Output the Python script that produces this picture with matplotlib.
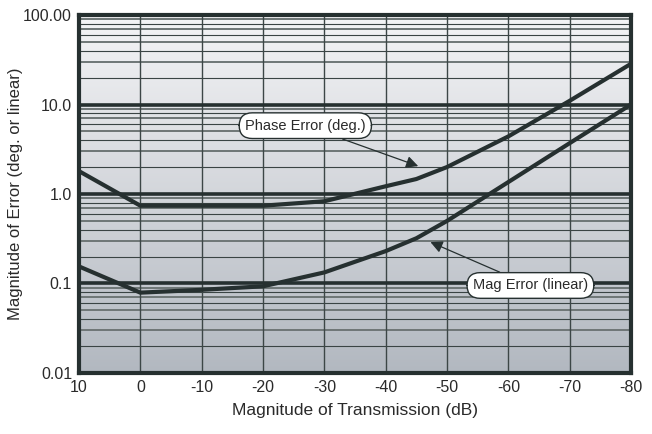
import matplotlib.pyplot as plt
import matplotlib.colors as mcolors
import numpy as np

plt.rcParams['font.family'] = ['Liberation Sans', 'DejaVu Sans']

# transmission (dB) and error values
x_db = [10, 0, -10, -20, -30, -40, -45, -50, -60, -70, -80]
phase_err = [1.8, 0.74, 0.74, 0.74, 0.83, 1.22, 1.47, 2.0, 4.4, 11.0, 28.5]
mag_err = [0.155, 0.079, 0.085, 0.093, 0.133, 0.23, 0.32, 0.5, 1.36, 3.7, 10.0]

x_ticks = [10, 0, -10, -20, -30, -40, -50, -60, -70, -80]
x_labels = ['10', '0', '-10', '-20', '-30', '-40', '-50', '-60', '-70', '-80']
y_ticks = [0.01, 0.1, 1, 10, 100]
y_labels = ['0.01', '0.1', '1.0', '10.0', '100.00']

dark = '#263030'
txt = '#2a2a2a'

fig = plt.figure(figsize=(6.52, 4.34), dpi=100)
ax = fig.add_axes([0.1212, 0.1406, 0.8466, 0.8248])

# background gradient
cmap = mcolors.LinearSegmentedColormap.from_list('bg', ['#b2b8c0', '#f4f4f6'])
grad = np.linspace(0, 1, 256).reshape(-1, 1)
ax.imshow(grad, aspect='auto', cmap=cmap, origin='lower', extent=[0, 1, 0, 1],
          transform=ax.transAxes, zorder=0)

ax.set_yscale('log')
ax.set_xlim(10, -80)
ax.set_ylim(0.01, 100)

# grid lines
for d in [0.01, 0.1, 1, 10]:
    for m in range(2, 10):
        if m % 2 == 0:
            ax.axhline(d * m, color='#3a4444', lw=0.8, zorder=1)
        else:
            ax.axhline(d * m, color='#6e7676', lw=1.4, zorder=1)
for d in [0.1, 1, 10]:
    ax.axhline(d, color=dark, lw=2.6, zorder=2)
for xv in x_ticks[1:-1]:
    ax.axvline(xv, color='#3c4646', lw=1.0, zorder=1)

ax.plot(x_db, phase_err, color=dark, lw=3, zorder=3, solid_joinstyle='round')
ax.plot(x_db, mag_err, color=dark, lw=3, zorder=3, solid_joinstyle='round')

bbox = dict(boxstyle='round,pad=0.4,rounding_size=0.9', fc='white', ec=dark, lw=1)
arrow = dict(arrowstyle='-|>', color=dark, lw=0.9, mutation_scale=18,
             shrinkA=0, shrinkB=0)
ax.annotate('Phase Error (deg.)', xy=(-45.3, 2.05), xytext=(-26.9, 5.8),
            fontsize=10.5, color=txt, ha='center', va='center', bbox=bbox,
            arrowprops=arrow, zorder=5)
ax.annotate('Mag Error (linear)', xy=(-47.3, 0.29), xytext=(-63.6, 0.095),
            fontsize=10.5, color=txt, ha='center', va='center', bbox=bbox,
            arrowprops=arrow, zorder=5)

ax.set_xticks(x_ticks)
ax.set_xticklabels(x_labels)
ax.set_yticks(y_ticks)
ax.set_yticklabels(y_labels)
ax.minorticks_off()
ax.tick_params(length=0, labelsize=11.5, colors=txt, pad=5)

for s in ax.spines.values():
    s.set_color(dark)
    s.set_linewidth(3)

ax.set_xlabel('Magnitude of Transmission (dB)', fontsize=12.5, color=txt, labelpad=6)
ax.set_ylabel('Magnitude of Error (deg. or linear)', fontsize=12, color=txt)
ax.yaxis.set_label_coords(-0.102, 0.5)

fig.savefig('out.png', dpi=100)
